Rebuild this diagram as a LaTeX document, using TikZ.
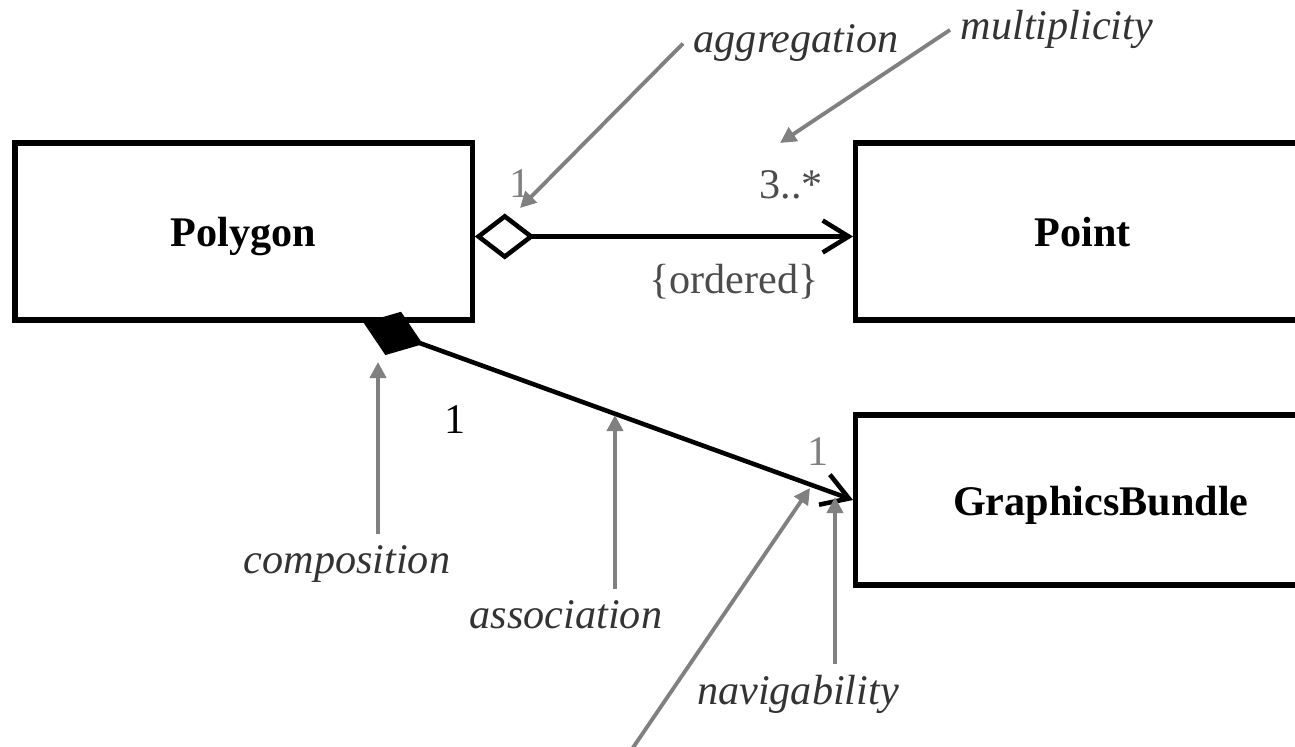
\documentclass[tikz,border=0pt]{standalone}
\usepackage{fontspec}
\setmainfont{Liberation Serif}
\usetikzlibrary{arrows.meta,positioning}

\begin{document}
\begin{tikzpicture}[x=0.01cm, y=-0.01cm,
  class/.style={draw, line width=1.5pt, inner sep=0pt, text height=3mm, text depth=0pt, font=\fontsize{12}{14}\selectfont\bfseries},
  assoc/.style={line width=1.3pt},
  note/.style={draw=gray, line width=1.1pt, -{Triangle[length=1.6mm,width=1.6mm]}},
  notetext/.style={font=\fontsize{12}{14}\selectfont\itshape, text=black!80, inner sep=1mm},
  mult/.style={font=\fontsize{12}{14}\selectfont, inner sep=0pt}]
\useasboundingbox (0,0) rectangle (1295,746);
\clip (0,0) rectangle (1295,746);

\node[class, minimum width=4.57cm, minimum height=1.77cm] (polygon) at (243.5,231.5) {Polygon};
\node[class, minimum width=4.54cm, minimum height=1.77cm, anchor=west] (point) at (853,231.5) {Point};
\node[class, minimum width=4.9cm, minimum height=1.70cm, anchor=west] (bundle) at (853,500) {GraphicsBundle};

\draw[assoc, {Diamond[open,length=6mm,width=4.6mm]}-{Straight Barb[length=2.6mm,width=3.2mm]}] ([yshift=-0.05cm]polygon.east) -- ([yshift=-0.05cm]point.west);
\draw[assoc, {Diamond[length=6.3mm,width=4.6mm]}-{Straight Barb[length=2.6mm,width=3.2mm]}] ([xshift=1.2cm]polygon.south) -- (bundle.west);

\node[mult, text=gray] (aggrMult) at (520,184) {1};
\node[mult, text=black!70] (pointMult) at (791,185) {3..*};
\node[mult, text=black!70] (ordered) at (734,282) {\{ordered\}};
\node[mult] (compMult) at (455,420) {1};
\node[mult, text=gray] (bundleMult) at (818,452) {1};

\node[notetext, anchor=base west] (aggrText) at (683,53) {aggregation};
\node[notetext, anchor=base west] (multText) at (950,40) {multiplicity};
\node[notetext, anchor=base] (compText) at (347,573) {composition};
\node[notetext, anchor=base] (assocText) at (566,628) {association};
\node[notetext, anchor=base] (navText) at (798,704) {navigability};

\coordinate (aggrTip) at (520,208);
\coordinate (multTip) at (780,143);
\coordinate (compTip) at (378,362);
\coordinate (assocTip) at (615,415);
\coordinate (navTip) at (835,497);
\coordinate (roleTip) at (810,488);
\coordinate (roleEnd) at (630,752);

\draw[note] (aggrText.west) -- (aggrTip);
\draw[note] (multText.west) -- (multTip);
\draw[note] (compTip |- compText.north) -- (compTip);
\draw[note] (assocTip |- assocText.north) -- (assocTip);
\draw[note] (navTip |- navText.north) -- (navTip);
\draw[note] (roleEnd) -- (roleTip);
\end{tikzpicture}
\end{document}
